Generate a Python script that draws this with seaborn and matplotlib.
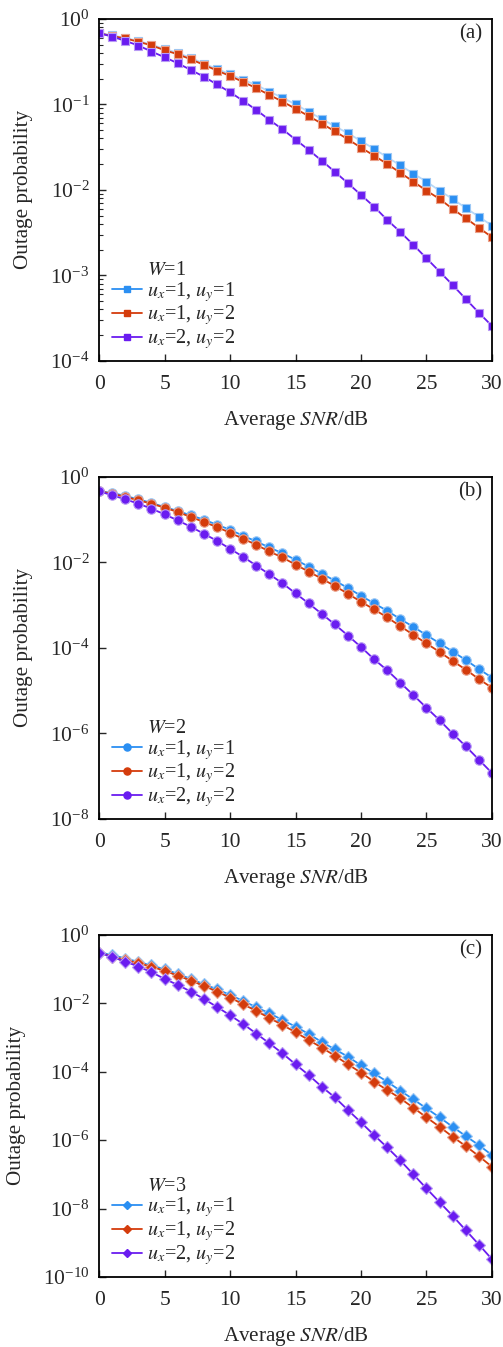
import numpy as np
import matplotlib
matplotlib.use("Agg")
import matplotlib.pyplot as plt
from matplotlib.lines import Line2D
from matplotlib.ticker import NullLocator, MultipleLocator
import seaborn as sns

sns.set_style("ticks")
plt.rcParams['font.family'] = ['Liberation Serif', 'DejaVu Serif']
plt.rcParams['mathtext.fontset'] = 'stix'
plt.rcParams['font.size'] = 14

snr = np.arange(0, 31)

# W = 1
w1_u11 = [0.69, 0.64, 0.60, 0.55, 0.50, 0.445, 0.40, 0.35, 0.30, 0.26, 0.225,
          0.193, 0.169, 0.141, 0.120, 0.100, 0.082, 0.0676, 0.0556, 0.046, 0.0374,
          0.0302, 0.0241, 0.0194, 0.0155, 0.0125, 0.0098, 0.00785, 0.00615, 0.00487, 0.00383]
w1_u12 = [0.68, 0.63, 0.59, 0.54, 0.49, 0.43, 0.386, 0.337, 0.29, 0.249, 0.215,
          0.183, 0.155, 0.129, 0.108, 0.089, 0.073, 0.0597, 0.0485, 0.0391, 0.0312,
          0.0252, 0.0201, 0.0159, 0.0125, 0.0098, 0.00785, 0.0060, 0.00467, 0.00362, 0.0028]
w1_u22 = [0.68, 0.62, 0.553, 0.488, 0.415, 0.356, 0.303, 0.253, 0.211, 0.171, 0.139,
          0.110, 0.0863, 0.0659, 0.0513, 0.0388, 0.0294, 0.0220, 0.0163, 0.0120, 0.00874,
          0.00638, 0.00446, 0.00323, 0.00228, 0.00159, 0.00111, 7.74e-4, 5.31e-4, 3.67e-4, 2.57e-4]

# W = 2
w2_u11 = [0.459, 0.421, 0.358, 0.298, 0.245, 0.197, 0.159, 0.126, 0.0996, 0.0760, 0.0580,
          0.0419, 0.0308, 0.0223, 0.0164, 0.0115, 0.00798, 0.00547, 0.00374, 0.00252, 0.00166,
          0.00110, 7.39e-4, 4.72e-4, 3.11e-4, 1.99e-4, 1.29e-4, 8.22e-5, 5.22e-5, 3.21e-5, 2.02e-5]
w2_u12 = [0.459, 0.405, 0.339, 0.283, 0.236, 0.190, 0.151, 0.115, 0.0879, 0.0670, 0.0493,
          0.0356, 0.0258, 0.0180, 0.0130, 0.00888, 0.00608, 0.00417, 0.00281, 0.00185, 0.00120,
          7.96e-4, 5.17e-4, 3.23e-4, 2.02e-4, 1.27e-4, 8.05e-5, 4.95e-5, 3.11e-5, 1.87e-5, 1.17e-5]
w2_u22 = [0.459, 0.371, 0.298, 0.236, 0.180, 0.133, 0.0959, 0.0681, 0.0467, 0.0320, 0.0208,
          0.0135, 0.00842, 0.00528, 0.00325, 0.00189, 0.00110, 6.28e-4, 3.54e-4, 1.95e-4, 1.05e-4,
          5.43e-5, 3.00e-5, 1.54e-5, 7.89e-6, 3.99e-6, 2.04e-6, 9.95e-7, 5.01e-7, 2.44e-7, 1.19e-7]

# W = 3
w3_u11 = [0.304, 0.260, 0.203, 0.162, 0.127, 0.0989, 0.0722, 0.0515, 0.0360, 0.0257, 0.0175,
          0.0117, 0.00763, 0.00510, 0.00325, 0.00207, 0.00127, 7.39e-4, 4.51e-4, 2.75e-4, 1.53e-4,
          8.93e-5, 5.09e-5, 2.78e-5, 1.55e-5, 8.47e-6, 4.62e-6, 2.45e-6, 1.31e-6, 7.15e-7, 3.64e-7]
w3_u12 = [0.304, 0.232, 0.185, 0.148, 0.118, 0.0883, 0.0645, 0.0461, 0.0322, 0.0220, 0.0147,
          0.00935, 0.00597, 0.00372, 0.00232, 0.00142, 8.45e-4, 5.04e-4, 2.94e-4, 1.64e-4, 9.35e-5,
          5.09e-5, 2.91e-5, 1.66e-5, 8.83e-6, 4.62e-6, 2.45e-6, 1.25e-6, 6.68e-7, 3.41e-7, 1.66e-7]
w3_u22 = [0.304, 0.222, 0.166, 0.118, 0.0808, 0.0515, 0.0344, 0.0220, 0.0134, 0.00781, 0.00446,
          0.00248, 0.00130, 6.76e-4, 3.44e-4, 1.64e-4, 8.00e-5, 3.63e-5, 1.78e-5, 7.56e-6, 3.30e-6,
          1.40e-6, 6.12e-7, 2.55e-7, 9.93e-8, 3.86e-8, 1.53e-8, 6.10e-9, 2.33e-9, 8.87e-10, 3.30e-10]

series_labels = [r"$u_x$=1, $u_y$=1", r"$u_x$=1, $u_y$=2", r"$u_x$=2, $u_y$=2"]
colors = ["#2b8ff2", "#d43c0c", "#6a1cf0"]
edge_colors = ["#9cc8f5", "#eaa08a", "#b89af5"]

panels = [
    ("(a)", "$W$=1", "s", [w1_u11, w1_u12, w1_u22], (-4, 0), 1, 6.3),
    ("(b)", "$W$=2", "o", [w2_u11, w2_u12, w2_u22], (-8, 0), 2, 6.8),
    ("(c)", "$W$=3", "D", [w3_u11, w3_u12, w3_u22], (-10, 0), 2, 5.8),
]

fig = plt.figure(figsize=(5.03, 13.47), dpi=100)
bottoms = [0.732, 0.392, 0.052]

for (tag, wlab, mk, data, (lo, hi), step, ms), b in zip(panels, bottoms):
    ax = fig.add_axes([0.197, b, 0.781, 0.254])
    lines = []
    for vals, lab, c, ec in zip(data, series_labels, colors, edge_colors):
        sns.lineplot(x=snr, y=vals, ax=ax, color=c, marker=mk, markersize=ms,
                     markeredgecolor=ec, markeredgewidth=0.8, linewidth=1.3,
                     label=lab, legend=False)
        lines.append(ax.lines[-1])
    ax.set_yscale('log')
    ax.set_xlim(0, 30)
    ax.set_ylim(10.0 ** lo, 10.0 ** hi)
    ax.xaxis.set_major_locator(MultipleLocator(5))
    ax.set_yticks([10.0 ** k for k in range(lo, hi + 1, step)])
    if step == 1:
        ax.set_yticks([m * 10.0 ** k for k in range(lo, hi) for m in range(2, 10)], minor=True)
        ax.set_yticklabels([], minor=True)
    else:
        ax.yaxis.set_minor_locator(NullLocator())
    ax.tick_params(which='both', direction='in', top=False, right=False, labelsize=15.5)
    ax.tick_params(which='major', length=5, width=1.0)
    ax.tick_params(axis='x', pad=10)
    ax.tick_params(axis='y', pad=7)
    ax.tick_params(which='minor', length=3, width=0.8)
    for sp in ax.spines.values():
        sp.set_linewidth(1.3)
        sp.set_color('black')
    ax.set_xlabel("Average $SNR$/dB", fontsize=15.2, labelpad=11)
    ax.set_ylabel("Outage probability", fontsize=15.2, labelpad=12)
    ax.text(0.975, 0.985, tag, transform=ax.transAxes, ha='right', va='top', fontsize=15)

    handles = [Line2D([], [], color='none', label=wlab)]
    for lab, c in zip(series_labels, colors):
        handles.append(Line2D([], [], color=c, marker=mk, markersize=ms * 0.75,
                              linewidth=1.3, label=lab))
    leg = ax.legend(handles=handles, loc='lower left', bbox_to_anchor=(0.0, -0.01),
                    frameon=False, fontsize=14.5, handlelength=1.5, handletextpad=0.25,
                    labelspacing=0.0, borderaxespad=0.25)

    if tag == "(a)":
        # the blue curve of panel (a) has a faint connecting line
        lines[0].set_color("#b8d8f8")
        lines[0].set_markerfacecolor(colors[0])
        lines[0].set_markeredgecolor(edge_colors[0])
        lines[0].set_zorder(1.5)

fig.savefig("out.png", dpi=100)
